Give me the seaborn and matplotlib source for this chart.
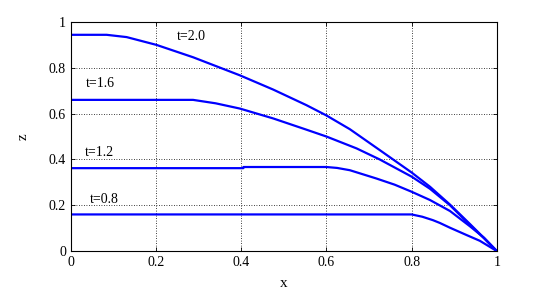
import matplotlib
matplotlib.use("Agg")
import matplotlib.pyplot as plt
import seaborn as sns
import pandas as pd

# profiles z(x), one per time
x_08 = [0.0, 0.40, 0.80, 0.825, 0.85, 0.866, 0.89, 0.929, 0.96, 1.0]
z_08 = [0.160, 0.160, 0.160, 0.150, 0.135, 0.123, 0.102, 0.070, 0.045, 0.0]

x_12 = [0.0, 0.405, 0.405, 0.60, 0.625, 0.655, 0.717, 0.76, 0.80, 0.843, 0.89, 0.937, 0.97, 1.0]
z_12 = [0.362, 0.362, 0.367, 0.367, 0.363, 0.353, 0.317, 0.290, 0.259, 0.223, 0.175, 0.108, 0.058, 0.0]

x_16 = [0.0, 0.287, 0.34, 0.397, 0.475, 0.553, 0.60, 0.671, 0.725, 0.80, 0.843, 0.89, 0.937, 0.97, 1.0]
z_16 = [0.660, 0.660, 0.645, 0.622, 0.579, 0.530, 0.500, 0.448, 0.400, 0.325, 0.272, 0.200, 0.114, 0.056, 0.0]

x_20 = [0.0, 0.084, 0.131, 0.201, 0.287, 0.397, 0.475, 0.553, 0.60, 0.655, 0.725, 0.80, 0.843, 0.89, 0.937, 0.97, 1.0]
z_20 = [0.944, 0.944, 0.934, 0.900, 0.846, 0.767, 0.705, 0.637, 0.592, 0.532, 0.441, 0.343, 0.281, 0.203, 0.118, 0.057, 0.0]

labels = ["t=0.8", "t=1.2", "t=1.6", "t=2.0"]
label_x = [0.045, 0.033, 0.035, 0.25]
label_z = [0.225, 0.43, 0.73, 0.935]

frames = []
for lab, xs, zs in zip(labels, [x_08, x_12, x_16, x_20], [z_08, z_12, z_16, z_20]):
    frames.append(pd.DataFrame({"x": xs, "z": zs, "t": lab}))
df = pd.concat(frames, ignore_index=True)

plt.rcParams["font.family"] = ["Liberation Serif", "DejaVu Serif"]
plt.rcParams["xtick.direction"] = "in"
plt.rcParams["ytick.direction"] = "in"

fig = plt.figure(figsize=(5.49, 2.93), dpi=100)
ax = fig.add_axes([0.129, 0.143, 0.776, 0.782])

sns.lineplot(data=df, x="x", y="z", units="t", estimator=None, sort=False,
             color="#0000ff", linewidth=1.6, ax=ax)

for lab, lx, lz in zip(labels, label_x, label_z):
    ax.text(lx, lz, lab, fontsize=10, va="center", ha="left")

ax.set_xlim(0, 1)
ax.set_ylim(0, 1)
ax.set_xticks([0, 0.2, 0.4, 0.6, 0.8, 1])
ax.set_xticklabels(["0", "0.2", "0.4", "0.6", "0.8", "1"])
ax.set_yticks([0, 0.2, 0.4, 0.6, 0.8, 1])
ax.set_yticklabels(["0", "0.2", "0.4", "0.6", "0.8", "1"])
ax.tick_params(labelsize=10, top=True, right=True, length=3, width=0.6)
ax.grid(True, color="black", linestyle=(0, (1, 2)), linewidth=0.6)
for s in ax.spines.values():
    s.set_linewidth(0.8)
ax.set_xlabel("x", fontsize=11, labelpad=6)
ax.set_ylabel("z", fontsize=11, labelpad=14)

fig.savefig("out.png", dpi=100)
